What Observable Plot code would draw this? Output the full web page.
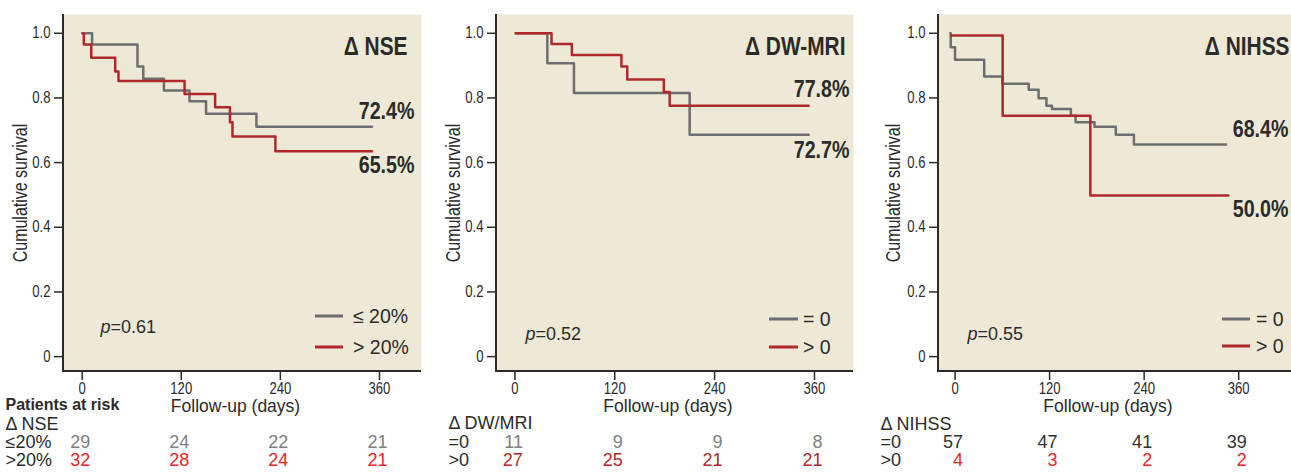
<!DOCTYPE html>
<html><head><meta charset="utf-8">
<script src="https://cdn.jsdelivr.net/npm/d3@7"></script>
<script src="https://cdn.jsdelivr.net/npm/@observablehq/plot@0.6"></script>
<style>
body{margin:0;background:#fff;}
#chart{display:flex;width:1291px;height:473px;overflow:hidden;position:relative;}
#chart svg{overflow:visible;flex:none;}
</style></head><body><div id="chart"></div>
<script>
// ---------- data ----------
const riskDays = [0, 120, 240, 360];
const yTicks = [0, 0.2, 0.4, 0.6, 0.8, 1.0];

// Panel 1: Δ NSE
const nseLowT  = [0, 12, 67, 74, 99, 130, 150, 211, 351];
const nseLowS  = [1.0, 0.965, 0.897, 0.859, 0.823, 0.790, 0.751, 0.711, 0.711];
const nseHighT = [1, 2, 11, 40, 44, 124, 161, 179, 182, 234, 351];
const nseHighS = [1.0, 0.965, 0.924, 0.882, 0.852, 0.812, 0.771, 0.725, 0.681, 0.635, 0.635];
const nseLowRisk  = [29, 24, 22, 21];
const nseHighRisk = [32, 28, 24, 21];

// Panel 2: Δ DW-MRI
const dwZeroT = [1, 39, 71, 210, 353];
const dwZeroS = [1.0, 0.907, 0.815, 0.686, 0.686];
const dwPosT  = [1, 44, 68.5, 128, 135, 179, 186, 353];
const dwPosS  = [1.0, 0.967, 0.933, 0.897, 0.857, 0.818, 0.776, 0.776];
const dwZeroRisk = [11, 9, 9, 8];
const dwPosRisk  = [27, 25, 21, 21];

// Panel 3: Δ NIHSS
const nihZeroT = [-6, -5.5, 0, 37, 60, 93.5, 106, 116, 123, 147, 153, 177, 204, 227, 344];
const nihZeroS = [1.0, 0.957, 0.918, 0.866, 0.844, 0.825, 0.799, 0.776, 0.766, 0.745, 0.725, 0.711, 0.686, 0.656, 0.656];
const nihPosT  = [-5, 60.4, 171.7, 346.7];
const nihPosS  = [0.993, 0.745, 0.498, 0.498];
const nihZeroRisk = [57, 47, 41, 39];
const nihPosRisk  = [4, 3, 2, 2];

// ---------- style ----------
const GRAY = "#6c6e70", RED = "#b0282c", BG = "#ede9d6", INK = "#2b2b2b";
const NARROW = "'Liberation Sans','Arial Narrow',sans-serif"; // condensed via horizontal scale below
const SANS = "'Liberation Sans',Arial,sans-serif";

const steps = (T, S) => T.map((t, i) => ({t, s: S[i]}));

function axisLines(index, scales, values, dims) {
  const {width, height, marginLeft, marginRight, marginTop, marginBottom} = dims;
  const p = document.createElementNS("http://www.w3.org/2000/svg", "path");
  p.setAttribute("d", `M${marginLeft},${marginTop}V${height - marginBottom}H${width - marginRight}`);
  p.setAttribute("fill", "none");
  p.setAttribute("stroke", INK);
  p.setAttribute("stroke-width", 2);
  return p;
}

function legendMark(items, lg) {
  return (index, scales, values, dims) => {
    const g = d3.create("svg:g");
    const R = dims.width - dims.marginRight, B = dims.height - dims.marginBottom;
    items.forEach((it, i) => {
      g.append("line").attr("x1", R - lg.x1).attr("x2", R - lg.x2)
        .attr("y1", B - lg.ys[i]).attr("y2", B - lg.ys[i])
        .attr("stroke", it.color).attr("stroke-width", 3);
      g.append("text").attr("x", R - lg.tx).attr("y", B - lg.ys[i]).attr("dy", "0.36em")
        .attr("text-anchor", "start")
        .attr("font-size", 19.5).attr("font-family", SANS).attr("fill", INK).text(it.label);
    });
    return g.node();
  };
}

function panel(c) {
  const marks = [
    Plot.frame({fill: BG, stroke: null}),
    ...c.series.map(s => Plot.line(steps(s.T, s.S), {x: "t", y: "s", stroke: s.color, strokeWidth: 2.5, curve: "step-after"})),
    Plot.axisY({ticks: yTicks, tickFormat: d => d === 0 ? "0" : d.toFixed(1), tickSize: 9, tickPadding: 4,
      fontSize: 16, fontFamily: NARROW, color: INK, strokeWidth: 1.5, label: null}),
    Plot.axisX({ticks: riskDays, tickFormat: d => String(d), tickSize: 9, tickPadding: 2,
      fontSize: 16, fontFamily: NARROW, color: INK, strokeWidth: 1.5, label: null}),
    axisLines,
    Plot.text([c.title], {text: d => d, frameAnchor: "top-right", dx: c.titleDx, dy: 22, textAnchor: "end",
      fontWeight: "bold", fontSize: 25.5, fontFamily: NARROW, fill: INK}),
    ...c.series.map(s => Plot.text([{s: s.S[s.S.length - 1], label: s.end}], {y: "s", text: "label", frameAnchor: "right",
      dx: c.endDx, dy: s.endDy, textAnchor: "end", fontWeight: "bold", fontSize: 24, fontFamily: NARROW, fill: INK})),
    Plot.text(["p"], {text: d => d, frameAnchor: "bottom-left", dx: c.pDx, dy: c.pDy, textAnchor: "start",
      fontStyle: "italic", fontSize: 18, fontFamily: SANS, fill: INK}),
    Plot.text([c.p], {text: d => d, frameAnchor: "bottom-left", dx: c.pDx + 10, dy: c.pDy, textAnchor: "start",
      fontSize: 18, fontFamily: SANS, fill: INK}),
    legendMark(c.series.map(s => ({color: s.color, label: s.legend})), c.legendPos),
    Plot.text(["Cumulative survival"], {text: d => d, frameAnchor: "left", textAnchor: "middle", rotate: -90, dx: c.yLabDx,
      fontSize: 19.5, fontFamily: NARROW, fill: INK}),
    Plot.text(["Follow-up (days)"], {text: d => d, frameAnchor: "bottom", dx: -7, dy: 40,
      fontSize: 17.5, fontFamily: SANS, fill: INK}),
    ...c.head.map(h => Plot.text([h.text], {text: d => d, frameAnchor: "bottom-left", dx: c.tabDx, dy: h.dy,
      textAnchor: "start", fontSize: h.bold ? 16 : 18, fontWeight: h.bold ? "bold" : "normal", fontFamily: SANS, fill: INK})),
    ...c.rows.map(r => Plot.text([r.label], {text: d => d, frameAnchor: "bottom-left", dx: c.tabDx, dy: r.dy,
      textAnchor: "start", fontSize: 18, fontFamily: SANS, fill: INK})),
    ...c.rows.map(r => Plot.text(riskDays.map((d, i) => ({t: d, v: r.values[i]})), {x: "t", text: "v", frameAnchor: "bottom",
      dx: 8, dy: r.dy, textAnchor: "end", fontSize: 18, fontFamily: SANS, fill: r.color}))
  ];
  const svg = Plot.plot({
    width: c.width, height: 473,
    marginLeft: c.ml, marginRight: c.mr, marginTop: 14, marginBottom: 102,
    x: {domain: c.xDomain},
    y: {domain: [-0.046, 1.058]},
    style: {background: "transparent", overflow: "visible"},
    marks
  });
  // condensed typeface look: squeeze texts that use the narrow family
  svg.querySelectorAll('[font-family*="Arial Narrow"] text').forEach(t => {
    t.setAttribute("transform", (t.getAttribute("transform") || "") + " scale(0.82,1)");
  });
  return svg;
}

const panels = [
  {width: 430, ml: 63, mr: 9, xDomain: [-22.6, 410.9], title: "Δ NSE", titleDx: -14, endDx: -7,
   series: [
     {T: nseLowT, S: nseLowS, color: GRAY, legend: "≤ 20%", end: "72.4%", endDy: -15},
     {T: nseHighT, S: nseHighS, color: RED, legend: "> 20%", end: "65.5%", endDy: 14}],
   p: "=0.61", pDx: 37, pDy: -39,
   legendPos: {x1: 106, x2: 78, tx: 68, ys: [55, 24]},
   yLabDx: -43, tabDx: -58,
   head: [{text: "Patients at risk", dy: 38, bold: true}, {text: "Δ NSE", dy: 58}],
   rows: [{label: "≤20%", values: nseLowRisk, color: "#808080", dy: 76},
          {label: ">20%", values: nseHighRisk, color: "#e8262b", dy: 94}]},
  {width: 430, ml: 66, mr: 7, xDomain: [-22.1, 406.9], title: "Δ DW-MRI", titleDx: -8, endDx: -4,
   series: [
     {T: dwZeroT, S: dwZeroS, color: GRAY, legend: "= 0", end: "72.7%", endDy: 16},
     {T: dwPosT, S: dwPosS, color: RED, legend: "> 0", end: "77.8%", endDy: -16}],
   p: "=0.52", pDx: 29, pDy: -32,
   legendPos: {x1: 84, x2: 55, tx: 50, ys: [52, 24]},
   yLabDx: -43, tabDx: -48,
   head: [{text: "Δ DW/MRI", dy: 57}],
   rows: [{label: "=0", values: dwZeroRisk, color: "#808080", dy: 76},
          {label: ">0", values: dwPosRisk, color: "#b0282d", dy: 94}]},
  {width: 431, ml: 78, mr: 0, xDomain: [-21, 427], title: "Δ NIHSS", titleDx: -2, endDx: -3,
   series: [
     {T: nihZeroT, S: nihZeroS, color: GRAY, legend: "= 0", end: "68.4%", endDy: -15},
     {T: nihPosT, S: nihPosS, color: RED, legend: "> 0", end: "50.0%", endDy: 14}],
   p: "=0.55", pDx: 29, pDy: -32,
   legendPos: {x1: 69, x2: 41, tx: 35, ys: [52, 25]},
   yLabDx: -45, tabDx: -58,
   head: [{text: "Δ NIHSS", dy: 58}],
   rows: [{label: "=0", values: nihZeroRisk, color: "#333333", dy: 76},
          {label: ">0", values: nihPosRisk, color: "#e8262b", dy: 94}]}
];

const root = document.getElementById("chart");
panels.forEach(c => root.appendChild(panel(c)));
</script></body></html>
